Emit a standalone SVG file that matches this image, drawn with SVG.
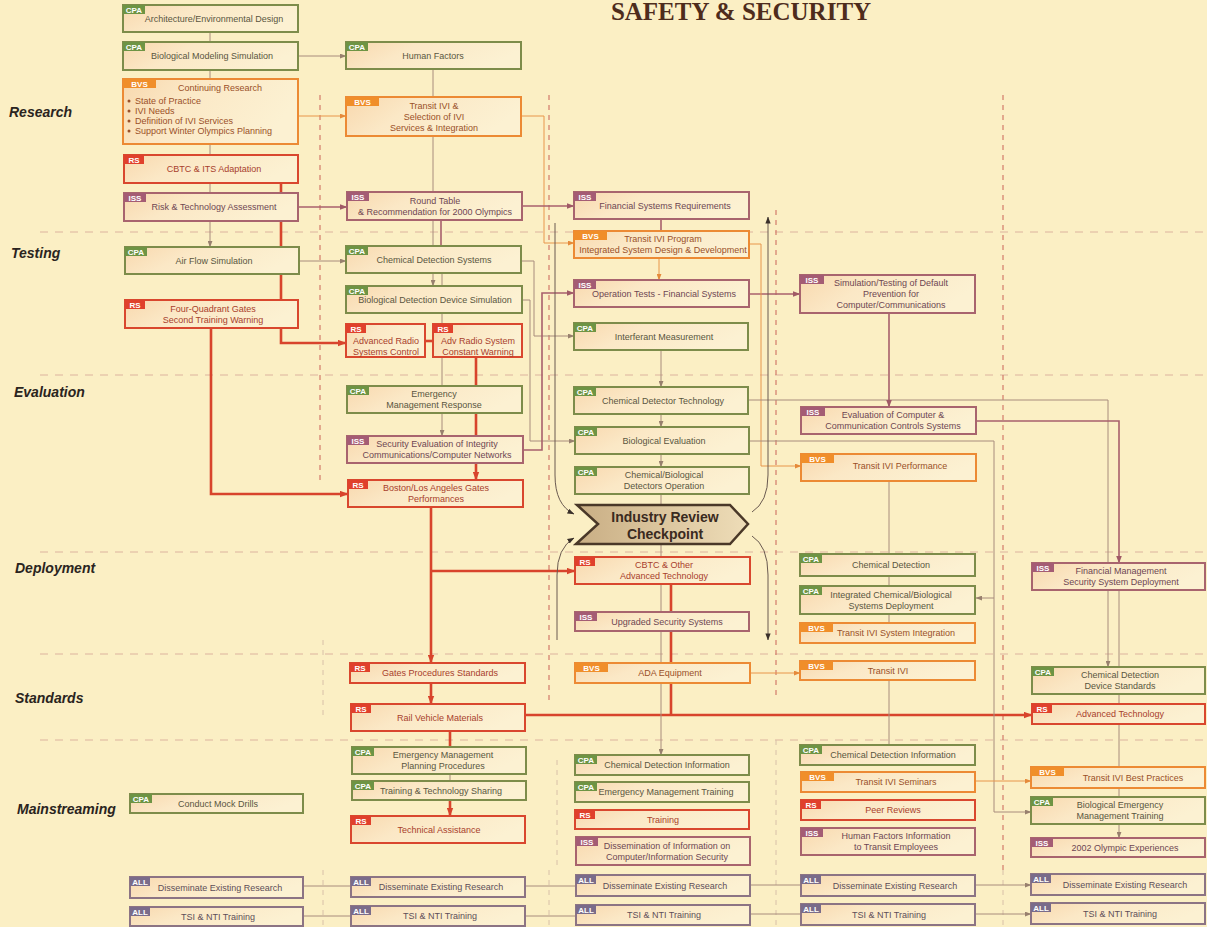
<svg xmlns="http://www.w3.org/2000/svg" width="1207" height="927" viewBox="0 0 1207 927">
<defs>
<linearGradient id="nf" x1="0" y1="0" x2="1" y2="0.3">
<stop offset="0" stop-color="#F8D8AE"/><stop offset="0.4" stop-color="#FBE8C6"/><stop offset="1" stop-color="#FCF1D2"/>
</linearGradient>
<linearGradient id="cpf" x1="0" y1="0" x2="1" y2="0">
<stop offset="0" stop-color="#C9AE84"/><stop offset="1" stop-color="#EEDDB8"/>
</linearGradient>
<marker id="aG" viewBox="0 0 8 6" refX="7.5" refY="3" markerWidth="7" markerHeight="5" markerUnits="userSpaceOnUse" orient="auto"><path d="M0,0L8,3L0,6z" fill="#98806E"/></marker>
<marker id="aO" viewBox="0 0 8 6" refX="7.5" refY="3" markerWidth="7" markerHeight="5" markerUnits="userSpaceOnUse" orient="auto"><path d="M0,0L8,3L0,6z" fill="#E58A3A"/></marker>
<marker id="aM" viewBox="0 0 8 6" refX="7.5" refY="3" markerWidth="8" markerHeight="6" markerUnits="userSpaceOnUse" orient="auto"><path d="M0,0L8,3L0,6z" fill="#A05A66"/></marker>
<marker id="aR" viewBox="0 0 8 6" refX="7.5" refY="3" markerWidth="9" markerHeight="7" markerUnits="userSpaceOnUse" orient="auto"><path d="M0,0L8,3L0,6z" fill="#D8442C"/></marker>
<marker id="aD" viewBox="0 0 8 6" refX="7.5" refY="3" markerWidth="7" markerHeight="6" markerUnits="userSpaceOnUse" orient="auto"><path d="M0,0L8,3L0,6z" fill="#3A302A"/></marker>
<style>
.box{fill:url(#nf);stroke-width:2}
.cpa .box{stroke:#7D8C4A}.cpa .tag{fill:#6E9444}.cpa .lbl{fill:#5A5640}
.bvs .box{stroke:#EC8A34}.bvs .tag{fill:#F08E2A}.bvs .lbl{fill:#9A5028}
.rs .box{stroke:#D9472E}.rs .tag{fill:#E0402C}.rs .lbl{fill:#A8402C}
.iss .box{stroke:#A8646E}.iss .tag{fill:#A45C74}.iss .lbl{fill:#6E4652}
.all .box{stroke:#8C7484}.all .tag{fill:#7A6C8A}.all .lbl{fill:#5E4E58}
.tg{font-family:"Liberation Sans",Arial,sans-serif;font-size:8px;font-weight:bold;fill:#FFFFFF;text-anchor:middle}
.lbl{font-family:"Liberation Sans",Arial,sans-serif;font-size:9px;text-anchor:middle}
.bl{text-anchor:start}
.ph{font-family:"Liberation Sans",Arial,sans-serif;font-size:14px;font-weight:bold;font-style:italic;fill:#2A2420}
.c{fill:none;stroke:#A88C7C;stroke-width:1}
.co{stroke:#E8964A}
.cm{stroke:#A8606C;stroke-width:1.6}
.cr{stroke:#D8442C;stroke-width:2.6}
.cd{stroke:#6A5A50;stroke-width:1}
.sep{fill:none;stroke:#D6A898;stroke-width:1;stroke-dasharray:8 7;opacity:0.85}
.vsep{fill:none;stroke:#D27A6A;stroke-width:1.2;stroke-dasharray:5 5}
.vsepf{fill:none;stroke:#D8C0A8;stroke-width:1;stroke-dasharray:5 5}
</style>
</defs>
<rect width="1207" height="927" fill="#FBEFC4"/>
<text x="741" y="20" font-family="'Liberation Serif','Times New Roman',serif" font-size="25" font-weight="bold" fill="#4E2C1C" text-anchor="middle">SAFETY &amp; SECURITY</text>

<g id="phases">
<text class="ph" x="9" y="117">Research</text>
<text class="ph" x="11" y="258">Testing</text>
<text class="ph" x="14" y="397">Evaluation</text>
<text class="ph" x="15" y="573">Deployment</text>
<text class="ph" x="15" y="703">Standards</text>
<text class="ph" x="17" y="814">Mainstreaming</text>
</g>

<g id="separators">
<path class="sep" d="M40,232H1207M40,375H1207M40,552H1207M40,654H1207M40,740H1207"/>
<path class="vsep" d="M320,95V485M549,95V700M776,210V700M1003,95V870"/>
<path class="vsepf" d="M323,640V720M557,760V870M323,870V927M549,870V927M776,740V927M1003,870V927"/>
</g>

<g id="connectors">
<path class="c" d="M210,32V42M210,70V79M210,144V155M210,183V193"/>
<path class="c" d="M210,221V247" marker-end="url(#aG)"/>
<path class="c" d="M298,56H346" marker-end="url(#aG)"/>
<path class="c co" d="M298,116H346" marker-end="url(#aO)"/>
<path class="c cm" d="M298,207H347" marker-end="url(#aM)"/>
<path class="c" d="M299,261H346" marker-end="url(#aG)"/>
<path class="c" d="M433,69V97M433,136V192M433,220V246M442,273V324M442,357V386"/>
<path class="c cm" d="M441,220V246"/>
<path class="c" d="M433,273V286" marker-end="url(#aG)"/>
<path class="c" d="M442,413V436" marker-end="url(#aG)"/>
<path class="c cr" d="M476,357V436"/>
<path class="c cr" d="M476,463V480" marker-end="url(#aR)"/>
<path class="c cr" d="M211,328V494H348" marker-end="url(#aR)"/>
<path class="c cr" d="M281,183V343H346" marker-end="url(#aR)"/>
<path class="c cr" d="M425,341H433"/>
<path class="c cr" d="M431,507V663" marker-end="url(#aR)"/>
<path class="c cr" d="M431,571H575" marker-end="url(#aR)"/>
<path class="c cr" d="M431,683V704" marker-end="url(#aR)"/>
<path class="c cr" d="M450,731V747"/>
<path class="c" d="M450,774V781"/>
<path class="c cr" d="M450,800V816" marker-end="url(#aR)"/>
<path class="c cr" d="M525,715H1032" marker-end="url(#aR)"/>
<path class="c cr" d="M671,584V715"/>
<path class="c cm" d="M661,219V231"/>
<path class="c co" d="M659,258V280" marker-end="url(#aO)"/>
<path class="c" d="M661,350V387" marker-end="url(#aG)"/>
<path class="c" d="M661,414V427" marker-end="url(#aG)"/>
<path class="c" d="M661,454V467" marker-end="url(#aG)"/>
<path class="c" d="M661,494V505M661,544V557M661,584V612M661,631V663"/>
<path class="c" d="M661,683V755" marker-end="url(#aG)"/>
<path class="c co" d="M522,116H544V243H574" marker-end="url(#aO)"/>
<path class="c cm" d="M523,206H574" marker-end="url(#aM)"/>
<path class="c" d="M522,261H534V336H574" marker-end="url(#aG)"/>
<path class="c" d="M522,300H530V441H575" marker-end="url(#aG)"/>
<path class="c cm" d="M523,450H542V293H574" marker-end="url(#aM)"/>
<path class="c cm" d="M749,294H800" marker-end="url(#aM)"/>
<path class="c co" d="M749,244H761V466H801" marker-end="url(#aO)"/>
<path class="c" d="M748,400H1108V667" marker-end="url(#aG)"/>
<path class="c cm" d="M889,313V407" marker-end="url(#aM)"/>
<path class="c cm" d="M976,421H1119V563" marker-end="url(#aM)"/>
<path class="c" d="M749,441H994V812H1031" marker-end="url(#aG)"/>
<path class="c" d="M994,598H976" marker-end="url(#aG)"/>
<path class="c" d="M889,481V623M889,680V745"/>
<path class="c co" d="M749,673H800" marker-end="url(#aO)"/>
<path class="c co" d="M974,781H1031" marker-end="url(#aO)"/>
<path class="c" d="M1119,589V667M1119,694V704M1119,723V767M1119,788V797"/>
<path class="c" d="M1119,824V838" marker-end="url(#aG)"/>
<path class="c" d="M303,886H351M303,916H351M525,886H576M525,916H576M750,885H801M750,914H801"/>
<path class="c" d="M975,885H1031" marker-end="url(#aG)"/>
<path class="c" d="M975,914H1031" marker-end="url(#aG)"/>
<path class="c cd" d="M555,223V475Q555,505 574,514" marker-end="url(#aD)"/>
<path class="c cd" d="M557,640V575Q557,548 574,538" marker-end="url(#aD)"/>
<path class="c cd" d="M752,512Q768,502 768,475V217" marker-end="url(#aD)"/>
<path class="c cd" d="M752,536Q768,546 768,575V640" marker-end="url(#aD)"/>
</g>

<g id="n1" class="cpa"><rect class="box" x="123" y="5" width="175" height="27"/><rect class="tag" x="123" y="5" width="22" height="9"/><text class="tg" x="134" y="12.5">CPA</text><text class="lbl" x="214" y="21.5">Architecture/Environmental Design</text></g>
<g id="n2" class="cpa"><rect class="box" x="123" y="42" width="175" height="28"/><rect class="tag" x="123" y="42" width="22" height="9"/><text class="tg" x="134" y="49.5">CPA</text><text class="lbl" x="212" y="59">Biological Modeling Simulation</text></g>
<g id="n3" class="bvs"><rect class="box" x="123" y="79" width="175" height="65"/><rect class="tag" x="123" y="79" width="33" height="9"/><text class="tg" x="139.5" y="86.5">BVS</text><text class="lbl" x="220" y="91">Continuing Research</text>
<circle cx="129" cy="101" r="1.5" fill="#9A5028"/><circle cx="129" cy="111" r="1.5" fill="#9A5028"/><circle cx="129" cy="121" r="1.5" fill="#9A5028"/><circle cx="129" cy="131" r="1.5" fill="#9A5028"/>
<text class="lbl bl" x="135" y="104">State of Practice</text><text class="lbl bl" x="135" y="114">IVI Needs</text><text class="lbl bl" x="135" y="124">Definition of IVI Services</text><text class="lbl bl" x="135" y="134">Support Winter Olympics Planning</text></g>
<g id="n4" class="rs"><rect class="box" x="124" y="155" width="174" height="28"/><rect class="tag" x="124" y="155" width="20" height="9"/><text class="tg" x="134" y="162.5">RS</text><text class="lbl" x="214" y="172">CBTC &amp; ITS Adaptation</text></g>
<g id="n5" class="iss"><rect class="box" x="124" y="193" width="174" height="28"/><rect class="tag" x="124" y="193" width="22" height="9"/><text class="tg" x="135" y="200.5">ISS</text><text class="lbl" x="214" y="210">Risk &amp; Technology Assessment</text></g>
<g id="n6" class="cpa"><rect class="box" x="125" y="247" width="174" height="27"/><rect class="tag" x="125" y="247" width="22" height="9"/><text class="tg" x="136" y="254.5">CPA</text><text class="lbl" x="214" y="263.5">Air Flow Simulation</text></g>
<g id="n7" class="rs"><rect class="box" x="125" y="300" width="173" height="28"/><rect class="tag" x="125" y="300" width="20" height="9"/><text class="tg" x="135" y="307.5">RS</text><text class="lbl" x="213" y="312">Four-Quadrant Gates</text><text class="lbl" x="213" y="323">Second Training Warning</text></g>
<g id="n8" class="cpa"><rect class="box" x="130" y="794" width="173" height="19"/><rect class="tag" x="130" y="794" width="22" height="9"/><text class="tg" x="141" y="801.5">CPA</text><text class="lbl" x="218" y="806.5">Conduct Mock Drills</text></g>
<g id="n9" class="all"><rect class="box" x="130" y="877" width="173" height="21"/><rect class="tag" x="130" y="877" width="20" height="9"/><text class="tg" x="140" y="884.5">ALL</text><text class="lbl" x="220" y="890.5">Disseminate Existing Research</text></g>
<g id="n10" class="all"><rect class="box" x="130" y="907" width="173" height="19"/><rect class="tag" x="130" y="907" width="20" height="9"/><text class="tg" x="140" y="914.5">ALL</text><text class="lbl" x="218" y="919.5">TSI &amp; NTI Training</text></g>

<g id="n11" class="cpa"><rect class="box" x="346" y="42" width="175" height="27"/><rect class="tag" x="346" y="42" width="22" height="9"/><text class="tg" x="357" y="49.5">CPA</text><text class="lbl" x="433" y="58.5">Human Factors</text></g>
<g id="n12" class="bvs"><rect class="box" x="346" y="97" width="175" height="39"/><rect class="tag" x="346" y="97" width="33" height="9"/><text class="tg" x="362.5" y="104.5">BVS</text><text class="lbl" x="434" y="108.5">Transit IVI &amp;</text><text class="lbl" x="434" y="119.5">Selection of IVI</text><text class="lbl" x="434" y="130.5">Services &amp; Integration</text></g>
<g id="n13" class="iss"><rect class="box" x="347" y="192" width="175" height="28"/><rect class="tag" x="347" y="192" width="22" height="9"/><text class="tg" x="358" y="199.5">ISS</text><text class="lbl" x="435" y="203.5">Round Table</text><text class="lbl" x="435" y="214.5">&amp; Recommendation for 2000 Olympics</text></g>
<g id="n14" class="cpa"><rect class="box" x="346" y="246" width="175" height="27"/><rect class="tag" x="346" y="246" width="22" height="9"/><text class="tg" x="357" y="253.5">CPA</text><text class="lbl" x="434" y="262.5">Chemical Detection Systems</text></g>
<g id="n15" class="cpa"><rect class="box" x="346" y="286" width="176" height="27"/><rect class="tag" x="346" y="286" width="22" height="9"/><text class="tg" x="357" y="293.5">CPA</text><text class="lbl" x="435" y="302.5">Biological Detection Device Simulation</text></g>
<g id="n16" class="rs"><rect class="box" x="346" y="324" width="79" height="33"/><rect class="tag" x="346" y="324" width="20" height="9"/><text class="tg" x="356" y="331.5">RS</text><text class="lbl" x="386" y="344">Advanced Radio</text><text class="lbl" x="386" y="355">Systems Control</text></g>
<g id="n17" class="rs"><rect class="box" x="433" y="324" width="89" height="33"/><rect class="tag" x="433" y="324" width="20" height="9"/><text class="tg" x="443" y="331.5">RS</text><text class="lbl" x="478" y="344">Adv Radio System</text><text class="lbl" x="478" y="355">Constant Warning</text></g>
<g id="n18" class="cpa"><rect class="box" x="347" y="386" width="175" height="27"/><rect class="tag" x="347" y="386" width="22" height="9"/><text class="tg" x="358" y="393.5">CPA</text><text class="lbl" x="434" y="397">Emergency</text><text class="lbl" x="434" y="408">Management Response</text></g>
<g id="n19" class="iss"><rect class="box" x="347" y="436" width="176" height="27"/><rect class="tag" x="347" y="436" width="22" height="9"/><text class="tg" x="358" y="443.5">ISS</text><text class="lbl" x="437" y="447">Security Evaluation of Integrity</text><text class="lbl" x="437" y="458">Communications/Computer Networks</text></g>
<g id="n20" class="rs"><rect class="box" x="348" y="480" width="175" height="27"/><rect class="tag" x="348" y="480" width="20" height="9"/><text class="tg" x="358" y="487.5">RS</text><text class="lbl" x="436" y="491">Boston/Los Angeles Gates</text><text class="lbl" x="436" y="502">Performances</text></g>
<g id="n21" class="rs"><rect class="box" x="350" y="663" width="175" height="20"/><rect class="tag" x="350" y="663" width="20" height="9"/><text class="tg" x="360" y="670.5">RS</text><text class="lbl" x="440" y="676">Gates Procedures Standards</text></g>
<g id="n22" class="rs"><rect class="box" x="351" y="704" width="174" height="27"/><rect class="tag" x="351" y="704" width="20" height="9"/><text class="tg" x="361" y="711.5">RS</text><text class="lbl" x="440" y="720.5">Rail Vehicle Materials</text></g>
<g id="n23" class="cpa"><rect class="box" x="352" y="747" width="174" height="27"/><rect class="tag" x="352" y="747" width="22" height="9"/><text class="tg" x="363" y="754.5">CPA</text><text class="lbl" x="443" y="758">Emergency Management</text><text class="lbl" x="443" y="769">Planning Procedures</text></g>
<g id="n24" class="cpa"><rect class="box" x="352" y="781" width="174" height="19"/><rect class="tag" x="352" y="781" width="22" height="9"/><text class="tg" x="363" y="788.5">CPA</text><text class="lbl" x="441" y="793.5">Training &amp; Technology Sharing</text></g>
<g id="n25" class="rs"><rect class="box" x="351" y="816" width="174" height="27"/><rect class="tag" x="351" y="816" width="20" height="9"/><text class="tg" x="361" y="823.5">RS</text><text class="lbl" x="439" y="832.5">Technical Assistance</text></g>
<g id="n26" class="all"><rect class="box" x="351" y="877" width="174" height="20"/><rect class="tag" x="351" y="877" width="20" height="9"/><text class="tg" x="361" y="884.5">ALL</text><text class="lbl" x="441" y="890">Disseminate Existing Research</text></g>
<g id="n27" class="all"><rect class="box" x="351" y="906" width="174" height="20"/><rect class="tag" x="351" y="906" width="20" height="9"/><text class="tg" x="361" y="913.5">ALL</text><text class="lbl" x="440" y="919">TSI &amp; NTI Training</text></g>

<g id="n28" class="iss"><rect class="box" x="574" y="192" width="175" height="27"/><rect class="tag" x="574" y="192" width="22" height="9"/><text class="tg" x="585" y="199.5">ISS</text><text class="lbl" x="665" y="208.5">Financial Systems Requirements</text></g>
<g id="n29" class="bvs"><rect class="box" x="574" y="231" width="175" height="27"/><rect class="tag" x="574" y="231" width="33" height="9"/><text class="tg" x="590.5" y="238.5">BVS</text><text class="lbl" x="663" y="242">Transit IVI Program</text><text class="lbl" x="663" y="253">Integrated System Design &amp; Development</text></g>
<g id="n30" class="iss"><rect class="box" x="574" y="280" width="175" height="27"/><rect class="tag" x="574" y="280" width="22" height="9"/><text class="tg" x="585" y="287.5">ISS</text><text class="lbl" x="664" y="296.5">Operation Tests - Financial Systems</text></g>
<g id="n31" class="cpa"><rect class="box" x="574" y="323" width="174" height="27"/><rect class="tag" x="574" y="323" width="22" height="9"/><text class="tg" x="585" y="330.5">CPA</text><text class="lbl" x="664" y="339.5">Interferant Measurement</text></g>
<g id="n32" class="cpa"><rect class="box" x="574" y="387" width="174" height="27"/><rect class="tag" x="574" y="387" width="22" height="9"/><text class="tg" x="585" y="394.5">CPA</text><text class="lbl" x="663" y="403.5">Chemical Detector Technology</text></g>
<g id="n33" class="cpa"><rect class="box" x="575" y="427" width="174" height="27"/><rect class="tag" x="575" y="427" width="22" height="9"/><text class="tg" x="586" y="434.5">CPA</text><text class="lbl" x="664" y="443.5">Biological Evaluation</text></g>
<g id="n34" class="cpa"><rect class="box" x="575" y="467" width="174" height="27"/><rect class="tag" x="575" y="467" width="22" height="9"/><text class="tg" x="586" y="474.5">CPA</text><text class="lbl" x="664" y="478">Chemical/Biological</text><text class="lbl" x="664" y="489">Detectors Operation</text></g>
<g id="checkpoint"><polygon points="577,505 730,505 748,524 730,544 576,544 598,524" fill="url(#cpf)" stroke="#4A3828" stroke-width="2.5" stroke-linejoin="miter"/><text x="665" y="522" font-family="'Liberation Sans',Arial,sans-serif" font-size="14" font-weight="bold" fill="#3A2A20" text-anchor="middle">Industry Review</text><text x="665" y="539" font-family="'Liberation Sans',Arial,sans-serif" font-size="14" font-weight="bold" fill="#3A2A20" text-anchor="middle">Checkpoint</text></g>
<g id="n36" class="rs"><rect class="box" x="575" y="557" width="175" height="27"/><rect class="tag" x="575" y="557" width="20" height="9"/><text class="tg" x="585" y="564.5">RS</text><text class="lbl" x="664" y="568">CBTC &amp; Other</text><text class="lbl" x="664" y="579">Advanced Technology</text></g>
<g id="n37" class="iss"><rect class="box" x="575" y="612" width="174" height="19"/><rect class="tag" x="575" y="612" width="22" height="9"/><text class="tg" x="586" y="619.5">ISS</text><text class="lbl" x="667" y="624.5">Upgraded Security Systems</text></g>
<g id="n38" class="bvs"><rect class="box" x="575" y="663" width="175" height="20"/><rect class="tag" x="575" y="663" width="33" height="9"/><text class="tg" x="591.5" y="670.5">BVS</text><text class="lbl" x="670" y="676">ADA Equipment</text></g>
<g id="n39" class="cpa"><rect class="box" x="575" y="755" width="174" height="20"/><rect class="tag" x="575" y="755" width="22" height="9"/><text class="tg" x="586" y="762.5">CPA</text><text class="lbl" x="667" y="768">Chemical Detection Information</text></g>
<g id="n40" class="cpa"><rect class="box" x="575" y="782" width="174" height="20"/><rect class="tag" x="575" y="782" width="22" height="9"/><text class="tg" x="586" y="789.5">CPA</text><text class="lbl" x="666" y="795">Emergency Management Training</text></g>
<g id="n41" class="rs"><rect class="box" x="575" y="810" width="174" height="19"/><rect class="tag" x="575" y="810" width="20" height="9"/><text class="tg" x="585" y="817.5">RS</text><text class="lbl" x="663" y="822.5">Training</text></g>
<g id="n42" class="iss"><rect class="box" x="576" y="837" width="174" height="28"/><rect class="tag" x="576" y="837" width="22" height="9"/><text class="tg" x="587" y="844.5">ISS</text><text class="lbl" x="667" y="848.5">Dissemination of Information on</text><text class="lbl" x="667" y="859.5">Computer/Information Security</text></g>
<g id="n43" class="all"><rect class="box" x="576" y="875" width="174" height="21"/><rect class="tag" x="576" y="875" width="20" height="9"/><text class="tg" x="586" y="882.5">ALL</text><text class="lbl" x="665" y="888.5">Disseminate Existing Research</text></g>
<g id="n44" class="all"><rect class="box" x="576" y="905" width="174" height="20"/><rect class="tag" x="576" y="905" width="20" height="9"/><text class="tg" x="586" y="912.5">ALL</text><text class="lbl" x="664" y="918">TSI &amp; NTI Training</text></g>

<g id="n45" class="iss"><rect class="box" x="800" y="275" width="175" height="38"/><rect class="tag" x="800" y="275" width="24" height="9"/><text class="tg" x="812" y="282.5">ISS</text><text class="lbl" x="891" y="286">Simulation/Testing of Default</text><text class="lbl" x="891" y="297">Prevention for</text><text class="lbl" x="891" y="308">Computer/Communications</text></g>
<g id="n46" class="iss"><rect class="box" x="801" y="407" width="175" height="27"/><rect class="tag" x="801" y="407" width="24" height="9"/><text class="tg" x="813" y="414.5">ISS</text><text class="lbl" x="893" y="418">Evaluation of Computer &amp;</text><text class="lbl" x="893" y="429">Communication Controls Systems</text></g>
<g id="n47" class="bvs"><rect class="box" x="801" y="454" width="175" height="27"/><rect class="tag" x="801" y="454" width="33" height="9"/><text class="tg" x="817.5" y="461.5">BVS</text><text class="lbl" x="900" y="469">Transit IVI Performance</text></g>
<g id="n48" class="cpa"><rect class="box" x="800" y="554" width="175" height="22"/><rect class="tag" x="800" y="554" width="22" height="9"/><text class="tg" x="811" y="561.5">CPA</text><text class="lbl" x="891" y="568">Chemical Detection</text></g>
<g id="n49" class="cpa"><rect class="box" x="800" y="586" width="175" height="28"/><rect class="tag" x="800" y="586" width="22" height="9"/><text class="tg" x="811" y="593.5">CPA</text><text class="lbl" x="891" y="597.5">Integrated Chemical/Biological</text><text class="lbl" x="891" y="608.5">Systems Deployment</text></g>
<g id="n50" class="bvs"><rect class="box" x="800" y="623" width="175" height="20"/><rect class="tag" x="800" y="623" width="33" height="9"/><text class="tg" x="816.5" y="630.5">BVS</text><text class="lbl" x="896" y="636">Transit IVI System Integration</text></g>
<g id="n51" class="bvs"><rect class="box" x="800" y="661" width="175" height="19"/><rect class="tag" x="800" y="661" width="33" height="9"/><text class="tg" x="816.5" y="668.5">BVS</text><text class="lbl" x="888" y="673.5">Transit IVI</text></g>
<g id="n52" class="cpa"><rect class="box" x="800" y="745" width="175" height="20"/><rect class="tag" x="800" y="745" width="22" height="9"/><text class="tg" x="811" y="752.5">CPA</text><text class="lbl" x="893" y="758">Chemical Detection Information</text></g>
<g id="n53" class="bvs"><rect class="box" x="801" y="772" width="174" height="20"/><rect class="tag" x="801" y="772" width="33" height="9"/><text class="tg" x="817.5" y="779.5">BVS</text><text class="lbl" x="896" y="785">Transit IVI Seminars</text></g>
<g id="n54" class="rs"><rect class="box" x="801" y="800" width="174" height="20"/><rect class="tag" x="801" y="800" width="20" height="9"/><text class="tg" x="811" y="807.5">RS</text><text class="lbl" x="893" y="813">Peer Reviews</text></g>
<g id="n55" class="iss"><rect class="box" x="801" y="828" width="174" height="27"/><rect class="tag" x="801" y="828" width="22" height="9"/><text class="tg" x="812" y="835.5">ISS</text><text class="lbl" x="896" y="839">Human Factors Information</text><text class="lbl" x="896" y="850">to Transit Employees</text></g>
<g id="n56" class="all"><rect class="box" x="801" y="875" width="174" height="21"/><rect class="tag" x="801" y="875" width="20" height="9"/><text class="tg" x="811" y="882.5">ALL</text><text class="lbl" x="895" y="888.5">Disseminate Existing Research</text></g>
<g id="n57" class="all"><rect class="box" x="801" y="904" width="174" height="21"/><rect class="tag" x="801" y="904" width="20" height="9"/><text class="tg" x="811" y="911.5">ALL</text><text class="lbl" x="889" y="917.5">TSI &amp; NTI Training</text></g>

<g id="n58" class="iss"><rect class="box" x="1032" y="563" width="173" height="27"/><rect class="tag" x="1032" y="563" width="22" height="9"/><text class="tg" x="1043" y="570.5">ISS</text><text class="lbl" x="1121" y="574">Financial Management</text><text class="lbl" x="1121" y="585">Security System Deployment</text></g>
<g id="n59" class="cpa"><rect class="box" x="1032" y="667" width="173" height="27"/><rect class="tag" x="1032" y="667" width="22" height="9"/><text class="tg" x="1043" y="674.5">CPA</text><text class="lbl" x="1120" y="678">Chemical Detection</text><text class="lbl" x="1120" y="689">Device Standards</text></g>
<g id="n60" class="rs"><rect class="box" x="1032" y="704" width="173" height="20"/><rect class="tag" x="1032" y="704" width="20" height="9"/><text class="tg" x="1042" y="711.5">RS</text><text class="lbl" x="1120" y="717">Advanced Technology</text></g>
<g id="n61" class="bvs"><rect class="box" x="1031" y="767" width="174" height="21"/><rect class="tag" x="1031" y="767" width="33" height="9"/><text class="tg" x="1047.5" y="774.5">BVS</text><text class="lbl" x="1133" y="780.5">Transit IVI Best Practices</text></g>
<g id="n62" class="cpa"><rect class="box" x="1031" y="797" width="174" height="27"/><rect class="tag" x="1031" y="797" width="22" height="9"/><text class="tg" x="1042" y="804.5">CPA</text><text class="lbl" x="1120" y="808">Biological Emergency</text><text class="lbl" x="1120" y="819">Management Training</text></g>
<g id="n63" class="iss"><rect class="box" x="1031" y="838" width="174" height="19"/><rect class="tag" x="1031" y="838" width="22" height="9"/><text class="tg" x="1042" y="845.5">ISS</text><text class="lbl" x="1125" y="850.5">2002 Olympic Experiences</text></g>
<g id="n64" class="all"><rect class="box" x="1031" y="874" width="174" height="21"/><rect class="tag" x="1031" y="874" width="20" height="9"/><text class="tg" x="1041" y="881.5">ALL</text><text class="lbl" x="1125" y="887.5">Disseminate Existing Research</text></g>
<g id="n65" class="all"><rect class="box" x="1031" y="903" width="174" height="21"/><rect class="tag" x="1031" y="903" width="20" height="9"/><text class="tg" x="1041" y="910.5">ALL</text><text class="lbl" x="1120" y="916.5">TSI &amp; NTI Training</text></g>
</svg>
